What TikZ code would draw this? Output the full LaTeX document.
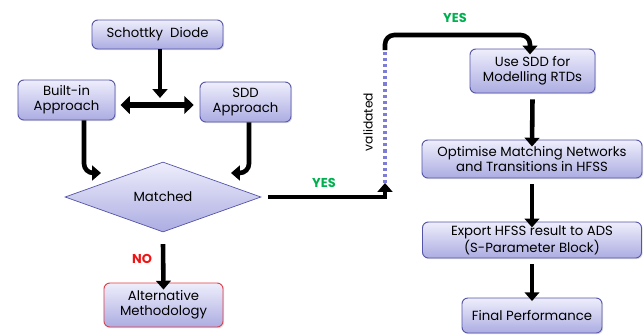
\documentclass[tikz,border=0pt]{standalone}
\usepackage{fontspec}
\setmainfont{Poppins}
\usepackage{tikz}
\usetikzlibrary{shapes.geometric,arrows.meta,positioning,calc,shadows}
\definecolor{boxline}{RGB}{84,84,168}
\definecolor{boxtop}{RGB}{238,238,252}
\definecolor{boxbot}{RGB}{172,172,226}
\definecolor{altline}{RGB}{222,62,72}
\definecolor{yesgreen}{RGB}{0,176,80}
\definecolor{nored}{RGB}{240,20,20}
\definecolor{dotblue}{RGB}{125,125,215}

\tikzset{
  flowbox/.style={draw=boxline, line width=0.8pt, rounded corners=5pt,
    top color=boxtop, bottom color=boxbot, align=center, inner sep=1pt,
    font=\fontsize{11.3}{13}\selectfont,
    drop shadow={shadow xshift=1pt, shadow yshift=-1pt, opacity=0.25}},
  decision/.style={diamond, draw=boxline, line width=0.6pt, aspect=2.8,
    top color=boxtop, bottom color=boxbot, inner sep=0pt,
    font=\fontsize{11.3}{13}\selectfont},
  flowarr/.style={line width=3.9pt, -{Triangle[length=7.5pt,width=12.5pt]}},
  bothwayarr/.style={line width=4.4pt, {Triangle[length=8pt,width=15pt]}-{Triangle[length=8pt,width=15pt]}},
  answer/.style={font=\fontsize{11}{12}\selectfont\bfseries}
}

\begin{document}
\begin{tikzpicture}[x=0.03cm, y=-0.03cm]
\useasboundingbox (0,0) rectangle (644,334);

% left part
\node[flowbox, minimum width=3.93cm, minimum height=0.87cm] (sd) at (157.5,34.5) {Schottky\ \ Diode};
\node[flowbox, minimum width=2.91cm, minimum height=1.2cm] (bi) at (66.5,100) {Built-in\\Approach};
\node[flowbox, minimum width=2.73cm, minimum height=1.2cm] (sdd) at (245.5,102) {SDD\\Approach};
\node[decision, minimum width=5.88cm, minimum height=2.1cm] (match) at (163,197) {Matched};
\node[flowbox, draw=altline, minimum width=3.57cm, minimum height=1.32cm] (alt) at (163.5,305) {Alternative\\Methodology};

% right part
\node[flowbox, minimum width=3.75cm, minimum height=1.32cm] (usesdd) at (532.5,71) {Use SDD for\\Modelling RTDs};
\node[flowbox, minimum width=6.6cm, minimum height=1.14cm] (optim) at (532,159) {Optimise Matching Networks\\and Transitions in HFSS};
\node[flowbox, minimum width=6.57cm, minimum height=1.08cm] (export) at (532,240) {Export HFSS result to ADS\\(S-Parameter Block)};
\node[flowbox, minimum width=4.2cm, minimum height=1.05cm] (final) at (532,315.5) {Final Performance};

% helper points
\coordinate (split) at (160,105);
\coordinate (biend) at (101,173);
\coordinate (sddend) at (231,173);
\coordinate (vlow) at (385,183);
\coordinate (vhigh) at (385,50);

% connectors
\draw[flowarr] (sd.south -| split) -- ([yshift=6]split);
\draw[bothwayarr] (bi.east |- split) ++(5,0) -- ([xshift=-5]sdd.west |- split);
\draw[flowarr, rounded corners=8pt] (bi.south -| 84,0) |- (biend);
\draw[flowarr, rounded corners=8pt] (sdd.south -| 249,0) |- (sddend);
\draw[flowarr] ([yshift=-10]match.south) -- ([yshift=-6]alt.north);
\draw[flowarr] ([xshift=6]match.east) -| (vlow);
\draw[dotblue, line width=2.6pt, dash pattern=on 2.6pt off 2.6pt] (vlow) -- (vhigh);
\draw[flowarr, rounded corners=8pt] (vhigh) |- (530,35) -- ([yshift=-5]usesdd.north -| 530,0);
\draw[flowarr] ([yshift=-5]usesdd.south) -- ([yshift=-6]optim.north);
\draw[flowarr] ([yshift=-5]optim.south) -- ([yshift=-5]export.north);
\draw[flowarr] ([yshift=-5]export.south) -- ([yshift=-3]final.north);

% labels
\node[answer, text=nored] (nolabel) at (142,259) {NO};
\node[answer, text=yesgreen] (yeslow) at (324,183) {YES};
\node[answer, text=yesgreen] (yestop) at (455,18) {YES};
\node[rotate=90, font=\fontsize{10.5}{12}\selectfont] (valid) at (368,122) {validated};
\end{tikzpicture}
\end{document}
